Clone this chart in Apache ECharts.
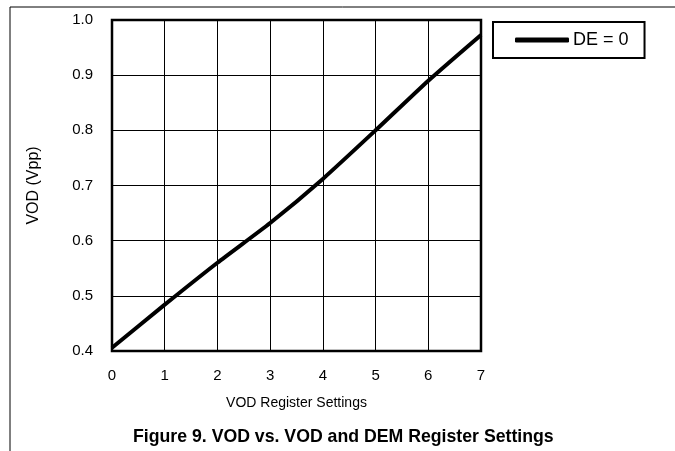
<!DOCTYPE html>
<html>
<head>
<meta charset="utf-8">
<script src="https://cdn.jsdelivr.net/npm/echarts@6/dist/echarts.min.js"></script>
<style>
  html, body { margin: 0; padding: 0; background: #fff; }
  #chart { width: 675px; height: 451px; }
</style>
</head>
<body>
<div id="chart"></div>
<script>
// register settings (x) and measured VOD (y)
var settings = [0, 1, 2, 3, 4, 5, 6, 7];
var vodDE0 = [0.406, 0.484, 0.56, 0.632, 0.712, 0.80, 0.89, 0.973];
var seriesName = 'DE = 0';

var font = 'Arial, "Liberation Sans", sans-serif';

var myChart = echarts.init(document.getElementById('chart'));
myChart.setOption({
  animation: false,
  backgroundColor: '#fff',
  textStyle: { fontFamily: font },
  grid: {
    left: 112, right: 194, top: 20, bottom: 100,
    show: true, borderColor: '#000', borderWidth: 2.5
  },
  legend: {
    left: 493, top: 22,
    padding: [9, 16, 9, 22],
    borderColor: '#000', borderWidth: 2,
    itemWidth: 54, itemHeight: 5, itemGap: 0,
    icon: 'roundRect',
    textStyle: { fontFamily: font, fontSize: 18, color: '#000', padding: [0, 0, 0, -1] },
    data: [seriesName]
  },
  xAxis: {
    type: 'value', min: 0, max: 7, interval: 1,
    name: 'VOD Register Settings', nameLocation: 'middle', nameGap: 45,
    nameTextStyle: { fontFamily: font, fontSize: 14, color: '#000' },
    axisLine: { show: false },
    axisTick: { show: false },
    axisLabel: { margin: 17, fontFamily: font, fontSize: 15, color: '#000' },
    splitLine: { show: true, lineStyle: { color: '#000', width: 1 } }
  },
  yAxis: {
    type: 'value', min: 0.4, max: 1.0, interval: 0.1,
    name: 'VOD (Vpp)', nameLocation: 'middle', nameGap: 70,
    nameTextStyle: { fontFamily: font, fontSize: 16, color: '#000' },
    axisLine: { show: false },
    axisTick: { show: false },
    axisLabel: {
      margin: 19, fontFamily: font, fontSize: 15, color: '#000',
      formatter: function (v) { return v.toFixed(1); }
    },
    splitLine: { show: true, lineStyle: { color: '#000', width: 1 } }
  },
  series: [{
    name: seriesName,
    type: 'line',
    symbol: 'none',
    smooth: 0.2,
    color: '#000',
    lineStyle: { color: '#000', width: 4 },
    data: settings.map(function (x, i) { return [x, vodDE0[i]]; })
  }],
  graphic: [
    { type: 'line', shape: { x1: 10, y1: 7, x2: 675, y2: 7 }, style: { stroke: '#000', lineWidth: 1 } },
    { type: 'line', shape: { x1: 10, y1: 7, x2: 10, y2: 451 }, style: { stroke: '#000', lineWidth: 1 } },
    {
      type: 'text', left: 133, top: 428,
      style: { text: 'Figure 9. VOD vs. VOD and DEM Register Settings', font: 'bold 17.7px Arial, "Liberation Sans", sans-serif', fill: '#000' }
    }
  ]
});
</script>
</body>
</html>
